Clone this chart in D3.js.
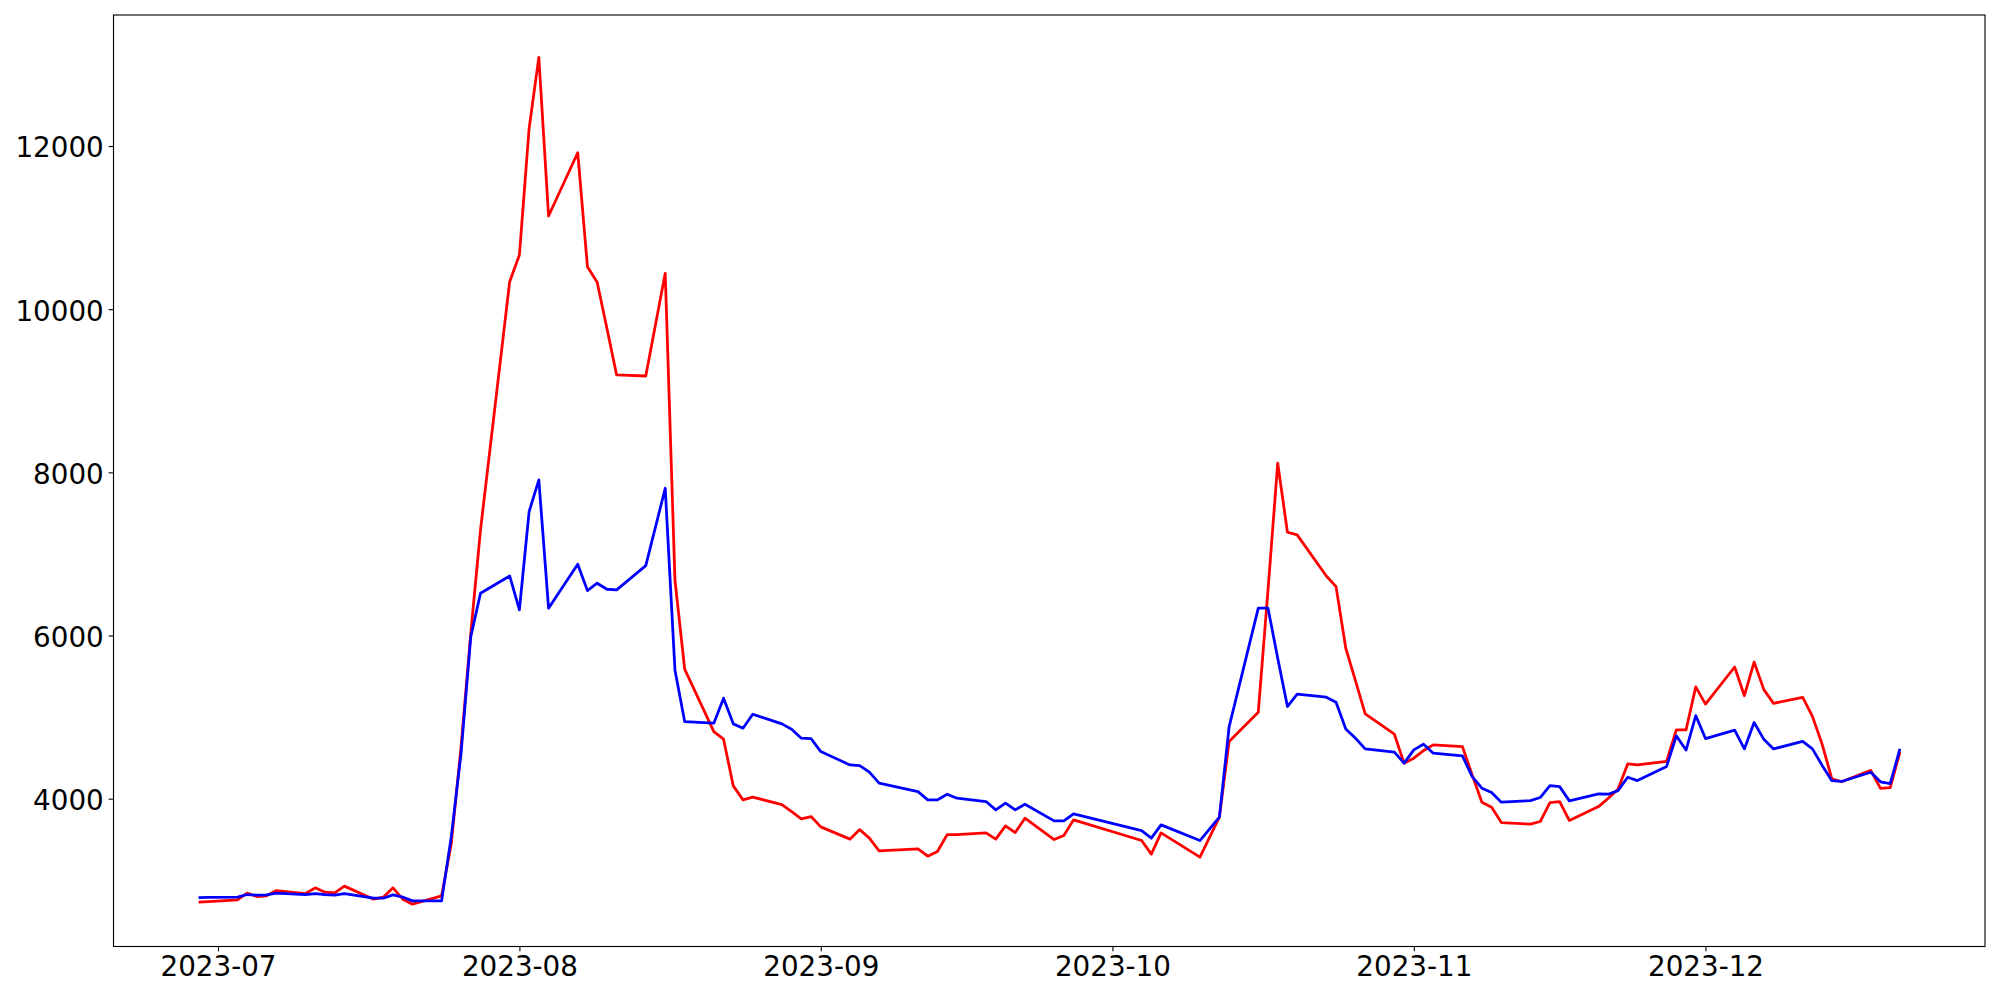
<!DOCTYPE html>
<html>
<head>
<meta charset="utf-8">
<script src="https://cdn.jsdelivr.net/npm/d3@7"></script>
<style>
  html, body { margin: 0; padding: 0; background: #ffffff; }
  svg { display: block; }
  text { font-family: "DejaVu Sans", sans-serif; }
</style>
</head>
<body>
<svg id="chart" width="2000" height="1000"></svg>
<script>
// ---- data ----
const dates = [
  "2023-06-29","2023-06-30","2023-07-03","2023-07-04","2023-07-05","2023-07-06","2023-07-07",
  "2023-07-10","2023-07-11","2023-07-12","2023-07-13","2023-07-14",
  "2023-07-17","2023-07-18","2023-07-19","2023-07-20","2023-07-21",
  "2023-07-24","2023-07-25","2023-07-26","2023-07-27","2023-07-28",
  "2023-07-31","2023-08-01","2023-08-02","2023-08-03","2023-08-04",
  "2023-08-07","2023-08-08","2023-08-09","2023-08-10","2023-08-11",
  "2023-08-14","2023-08-16","2023-08-17","2023-08-18",
  "2023-08-21","2023-08-22","2023-08-23","2023-08-24","2023-08-25",
  "2023-08-28","2023-08-29","2023-08-30","2023-08-31","2023-09-01",
  "2023-09-04","2023-09-05","2023-09-06","2023-09-07",
  "2023-09-11","2023-09-12","2023-09-13","2023-09-14","2023-09-15",
  "2023-09-18","2023-09-19","2023-09-20","2023-09-21","2023-09-22",
  "2023-09-25","2023-09-26","2023-09-27",
  "2023-10-04","2023-10-05","2023-10-06",
  "2023-10-10","2023-10-12","2023-10-13",
  "2023-10-16","2023-10-17","2023-10-18","2023-10-19","2023-10-20",
  "2023-10-23","2023-10-24","2023-10-25","2023-10-26","2023-10-27",
  "2023-10-30","2023-10-31","2023-11-01","2023-11-02","2023-11-03",
  "2023-11-06","2023-11-07","2023-11-08","2023-11-09","2023-11-10",
  "2023-11-13","2023-11-14","2023-11-15","2023-11-16","2023-11-17",
  "2023-11-20","2023-11-21","2023-11-22","2023-11-23","2023-11-24",
  "2023-11-27","2023-11-28","2023-11-29","2023-11-30","2023-12-01",
  "2023-12-04","2023-12-05","2023-12-06","2023-12-07","2023-12-08",
  "2023-12-11","2023-12-12","2023-12-13","2023-12-14","2023-12-15",
  "2023-12-18","2023-12-19","2023-12-20","2023-12-21"
];

const redValues = [
  2732,2738,2760,2842,2800,2809,2874,
  2837,2907,2854,2846,2928,
  2768,2793,2907,2768,2707,
  2809,3455,4638,6028,7294,
  10337,10664,12217,13087,11142,
  11918,10521,10330,9766,9194,
  9181,10440,6681,5587,
  4822,4729,4157,3985,4018,
  3928,3842,3752,3781,3654,
  3504,3621,3516,3360,
  3385,3295,3352,3560,3560,
  3581,3504,3667,3585,3761,
  3499,3548,3740,
  3487,3320,3581,
  3283,3773,4700,
  5060,6557,8112,7266,7233,
  6730,6599,5844,5444,5039,
  4790,4435,4496,4590,4659,
  4638,4292,3957,3896,3707,
  3688,3720,3952,3964,3731,
  3903,4006,4116,4426,4414,
  4456,4844,4844,5370,5159,
  5614,5262,5675,5337,5168,
  5243,5009,4667,4244,4207,
  4347,4127,4136,4572
];

const blueValues = [
  2788,2790,2793,2825,2817,2821,2842,
  2825,2837,2825,2817,2837,
  2780,2780,2821,2793,2747,
  2747,3540,4558,5987,6518,
  6730,6314,7518,7907,6335,
  6874,6550,6641,6567,6559,
  6857,7805,5578,4945,
  4925,5232,4917,4864,5035,
  4917,4852,4741,4737,4577,
  4414,4406,4325,4190,
  4087,3985,3985,4055,4006,
  3965,3863,3945,3863,3932,
  3728,3728,3814,
  3609,3516,3679,
  3487,3773,4880,
  6335,6335,5722,5129,5281,
  5244,5183,4855,4741,4610,
  4570,4435,4598,4668,4558,
  4524,4271,4129,4075,3957,
  3977,4014,4161,4148,3973,
  4059,4055,4099,4263,4222,
  4395,4770,4596,5018,4737,
  4840,4610,4934,4727,4610,
  4703,4610,4408,4221,4211,
  4324,4207,4184,4610
];

const xTickDates = ["2023-07-01","2023-08-01","2023-09-01","2023-10-01","2023-11-01","2023-12-01"];
const yTickValues = [4000, 6000, 8000, 10000, 12000];

// ---- layout ----
const W = 2000, H = 1000;
const plot = { left: 113.5, right: 1985, top: 15, bottom: 946.5 };
const px = 100 / 72;               // points -> pixels at 100 dpi
const fontPx = 20 * px;            // 27.8 px
const tickLen = 3.5 * px;
const tickPad = 3.5 * px;

const parse = d3.utcParse("%Y-%m-%d");
const xs = dates.map(parse);

const svg = d3.select("#chart");
svg.append("rect").attr("width", W).attr("height", H).attr("fill", "#ffffff");

// scales with matplotlib-like 5% margins
const [x0, x1] = d3.extent(xs);
const xPad = (x1 - x0) * 0.05;
const x = d3.scaleUtc()
  .domain([new Date(+x0 - xPad), new Date(+x1 + xPad)])
  .range([plot.left, plot.right]);

const allVals = redValues.concat(blueValues);
const [y0, y1] = d3.extent(allVals);
const yPad = (y1 - y0) * 0.05;
const y = d3.scaleLinear()
  .domain([y0 - yPad, y1 + yPad])
  .range([plot.bottom, plot.top]);

// lines
const line = d3.line()
  .x(d => x(d[0]))
  .y(d => y(d[1]));

const redData = xs.map((d, i) => [d, redValues[i]]);
const blueData = xs.map((d, i) => [d, blueValues[i]]);

svg.append("clipPath").attr("id", "clip")
  .append("rect")
  .attr("x", plot.left).attr("y", plot.top)
  .attr("width", plot.right - plot.left).attr("height", plot.bottom - plot.top);

const lines = svg.append("g").attr("clip-path", "url(#clip)");
lines.append("path")
  .datum(redData)
  .attr("d", line)
  .attr("fill", "none")
  .attr("stroke", "#ff0000")
  .attr("stroke-width", 2 * px)
  .attr("stroke-linejoin", "round");
lines.append("path")
  .datum(blueData)
  .attr("d", line)
  .attr("fill", "none")
  .attr("stroke", "#0000ff")
  .attr("stroke-width", 2 * px)
  .attr("stroke-linejoin", "round");

// axes
const xAxis = d3.axisBottom(x)
  .tickValues(xTickDates.map(parse))
  .tickFormat(d3.utcFormat("%Y-%m"))
  .tickSize(tickLen)
  .tickSizeOuter(0)
  .tickPadding(tickPad);

const yAxis = d3.axisLeft(y)
  .tickValues(yTickValues)
  .tickFormat(d3.format("d"))
  .tickSize(tickLen)
  .tickSizeOuter(0)
  .tickPadding(tickPad);

const gx = svg.append("g")
  .attr("transform", `translate(0,${plot.bottom})`)
  .call(xAxis);
const gy = svg.append("g")
  .attr("transform", `translate(${plot.left},0)`)
  .call(yAxis);

[gx, gy].forEach(g => {
  g.select(".domain").remove();
  g.selectAll(".tick line").attr("stroke", "#000000").attr("stroke-width", 0.8 * px);
  g.selectAll(".tick text")
    .attr("fill", "#000000")
    .style("font-family", "'DejaVu Sans', sans-serif")
    .style("font-size", fontPx + "px");
});
gy.selectAll(".tick text").attr("dy", "0.39em");

// frame
svg.append("rect")
  .attr("x", plot.left).attr("y", plot.top)
  .attr("width", plot.right - plot.left).attr("height", plot.bottom - plot.top)
  .attr("fill", "none")
  .attr("stroke", "#000000")
  .attr("stroke-width", 0.8 * px);
</script>
</body>
</html>
